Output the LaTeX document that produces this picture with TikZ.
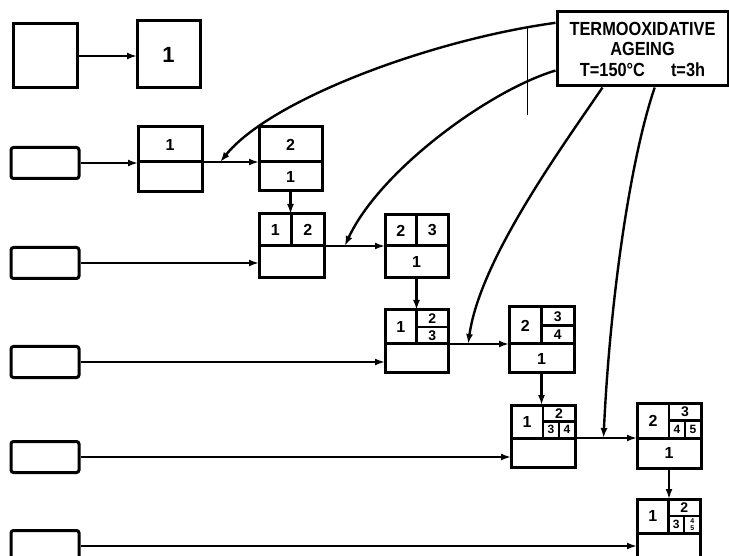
\documentclass[tikz,border=0pt]{standalone}
\usepackage{fontspec}
\setmainfont{Liberation Sans}
\newfontfamily\agefont[FakeStretch=0.86]{Liberation Sans}
\usetikzlibrary{arrows.meta, positioning, calc}
\newcommand{\cellfont}{\fontsize{16}{16}\selectfont\bfseries}
\newcommand{\quartfont}{\fontsize{14}{14}\selectfont\bfseries}
\newcommand{\eighthfont}{\fontsize{12}{12}\selectfont\bfseries}

\begin{document}
\begin{tikzpicture}[x=1pt, y=-1pt,
  unit/.style={draw, line width=3pt, inner sep=0pt, outer sep=0pt,
               anchor=north west, font=\cellfont},
  feed/.style={draw, line width=3pt, rounded corners=2.5pt,
               minimum width=68pt, minimum height=31pt},
  arrow/.style={-{Latex[length=10pt, width=7pt]}, line width=2.4pt},
  split/.style={line width=2.4pt},
  half/.style={font=\cellfont, inner sep=0pt},
  quart/.style={font=\quartfont, inner sep=0pt},
  eighth/.style={font=\eighthfont, inner sep=0pt},
]
\useasboundingbox (0,0) rectangle (729,556);
\clip (0,0) rectangle (729,556);

% Reference sample
\node[unit, minimum width=64pt, minimum height=64pt] (src0) at (13,24) {};
\node[unit, minimum width=63pt, minimum height=67pt,
      font=\fontsize{22}{22}\selectfont\bfseries] (out0) at (137,21) {1};
\draw[arrow] (src0.east) -- (src0.east -| out0.west);

% Ageing chamber
\node[draw, line width=3pt, minimum width=171pt, minimum height=74pt,
      align=center, font=\agefont\bfseries\fontsize{19}{20}\selectfont]
      (ageing) at (642.5,49) {TERMOOXIDATIVE\\AGEING\\[1pt]T=150°C\hspace{26pt}t=3h};

% Feed boxes
\foreach \n/\y in {1/163,2/263,3/362,4/457,5/546}
  \node[feed] (in\n) at (45,\y) {};

% Mixing units
\node[unit, minimum width=64pt, minimum height=35pt] (mixt1) at (138,127) {1};
\node[unit, minimum width=64pt, minimum height=30pt, below=0pt of mixt1] (mixb1) {};
\node[unit, minimum width=65pt, minimum height=32pt] (mixt2) at (259,214) {};
\node[unit, minimum width=65pt, minimum height=32pt, below=0pt of mixt2] (mixb2) {};
\node[unit, minimum width=63pt, minimum height=34pt] (mixt3) at (385,310) {};
\node[unit, minimum width=63pt, minimum height=29pt, below=0pt of mixt3] (mixb3) {};
\node[unit, minimum width=64pt, minimum height=33pt] (mixt4) at (511,405) {};
\node[unit, minimum width=64pt, minimum height=29pt, below=0pt of mixt4] (mixb4) {};
\node[unit, minimum width=63pt, minimum height=34pt] (mixt5) at (637,499) {};
\node[unit, minimum width=63pt, minimum height=30pt, below=0pt of mixt5] (mixb5) {};

% Aged units
\node[unit, minimum width=63pt, minimum height=35pt] (aget1) at (259,127) {2};
\node[unit, minimum width=63pt, minimum height=29pt, below=0pt of aget1] (ageb1) {1};
\node[unit, minimum width=63pt, minimum height=31pt] (aget2) at (385,215) {};
\node[unit, minimum width=63pt, minimum height=32pt, below=0pt of aget2] (ageb2) {1};
\node[unit, minimum width=65pt, minimum height=37pt] (aget3) at (509,307) {};
\node[unit, minimum width=65pt, minimum height=29pt, below=0pt of aget3] (ageb3) {1};
\node[unit, minimum width=64pt, minimum height=35pt] (aget4) at (637,403) {};
\node[unit, minimum width=64pt, minimum height=30pt, below=0pt of aget4] (ageb4) {1};

% Cell dividers
\foreach \b in {mixt2,aget2,mixt3,aget3,mixt4,aget4,mixt5}
  \draw[split] (\b.north) -- (\b.south);
\foreach \b in {mixt3,aget3,mixt4,aget4,mixt5}
  \draw[split] (\b.center) -- (\b.east);
\foreach \b in {mixt4,aget4,mixt5}
  \draw[split] ($(\b.center)!0.5!(\b.east)$) -- ($(\b.south)!0.5!(\b.south east)$);

% Cell labels
\node[half] at ($(mixt2.north west)!0.5!(mixt2.south)$) {1};
\node[half] at ($(mixt2.north)!0.5!(mixt2.south east)$) {2};
\node[half] at ($(aget2.north west)!0.5!(aget2.south)$) {2};
\node[half] at ($(aget2.north)!0.5!(aget2.south east)$) {3};
\node[half] at ($(mixt3.north west)!0.5!(mixt3.south)$) {1};
\node[quart] at ($(mixt3.north)!0.5!(mixt3.east)$) {2};
\node[quart] at ($(mixt3.east)!0.5!(mixt3.south)$) {3};
\node[half] at ($(aget3.north west)!0.5!(aget3.south)$) {2};
\node[quart] at ($(aget3.north)!0.5!(aget3.east)$) {3};
\node[quart] at ($(aget3.east)!0.5!(aget3.south)$) {4};
\node[half] at ($(mixt4.north west)!0.5!(mixt4.south)$) {1};
\node[quart] at ($(mixt4.north)!0.5!(mixt4.east)$) {2};
\node[eighth, xshift=-8pt] at ($(mixt4.east)!0.5!(mixt4.south)$) {3};
\node[eighth, xshift=8pt] at ($(mixt4.east)!0.5!(mixt4.south)$) {4};
\node[half] at ($(aget4.north west)!0.5!(aget4.south)$) {2};
\node[quart] at ($(aget4.north)!0.5!(aget4.east)$) {3};
\node[eighth, xshift=-8pt] at ($(aget4.east)!0.5!(aget4.south)$) {4};
\node[eighth, xshift=8pt] at ($(aget4.east)!0.5!(aget4.south)$) {5};
\node[half] at ($(mixt5.north west)!0.5!(mixt5.south)$) {1};
\node[quart] at ($(mixt5.north)!0.5!(mixt5.east)$) {2};
\node[eighth, xshift=-8pt] at ($(mixt5.east)!0.5!(mixt5.south)$) {3};
\node[font=\fontsize{7}{7}\selectfont\bfseries, inner sep=0pt, xshift=8pt, yshift=3.5pt]
  at ($(mixt5.east)!0.5!(mixt5.south)$) {4};
\node[font=\fontsize{7}{7}\selectfont\bfseries, inner sep=0pt, xshift=8pt, yshift=-3.5pt]
  at ($(mixt5.east)!0.5!(mixt5.south)$) {5};

% Feed lines
\draw[arrow] (in1.east) -- (in1.east -| mixt1.west);
\foreach \n in {2,...,5}
  \draw[arrow] (in\n.east) -- (in\n.east -| mixb\n.west);

% Transfer lines
\foreach \n in {1,...,4}
  \draw[arrow] (mixt\n.south east) -- (aget\n.south west);
\foreach \n/\m in {1/2,2/3,3/4,4/5}
  \draw[arrow] (ageb\n.south) -- (ageb\n.south |- mixt\m.north);

% Ageing feeds
\coordinate (hit1) at ($(mixt1.south east)!0.32!(aget1.south west)$);
\coordinate (hit2) at ($(mixt2.south east)!0.34!(aget2.south west)$);
\coordinate (hit3) at ($(mixt3.south east)!0.33!(aget3.south west)$);
\coordinate (hit4) at ($(mixt4.south east)!0.46!(aget4.south west)$);
\draw[arrow] ($(ageing.north west)!0.16!(ageing.south west)$)
  .. controls (430,40) and (270,100) .. (hit1);
\draw[arrow] ($(ageing.north west)!0.78!(ageing.south west)$)
  .. controls (490,90) and (380,170) .. (hit2);
\draw[arrow] ($(ageing.south west)!0.27!(ageing.south east)$)
  .. controls (560,150) and (480,260) .. (hit3);
\draw[arrow] ($(ageing.south west)!0.57!(ageing.south east)$)
  .. controls (630,160) and (610,300) .. (hit4);
\draw[line width=1pt] (527,28) -- (527,115);
\end{tikzpicture}
\end{document}
